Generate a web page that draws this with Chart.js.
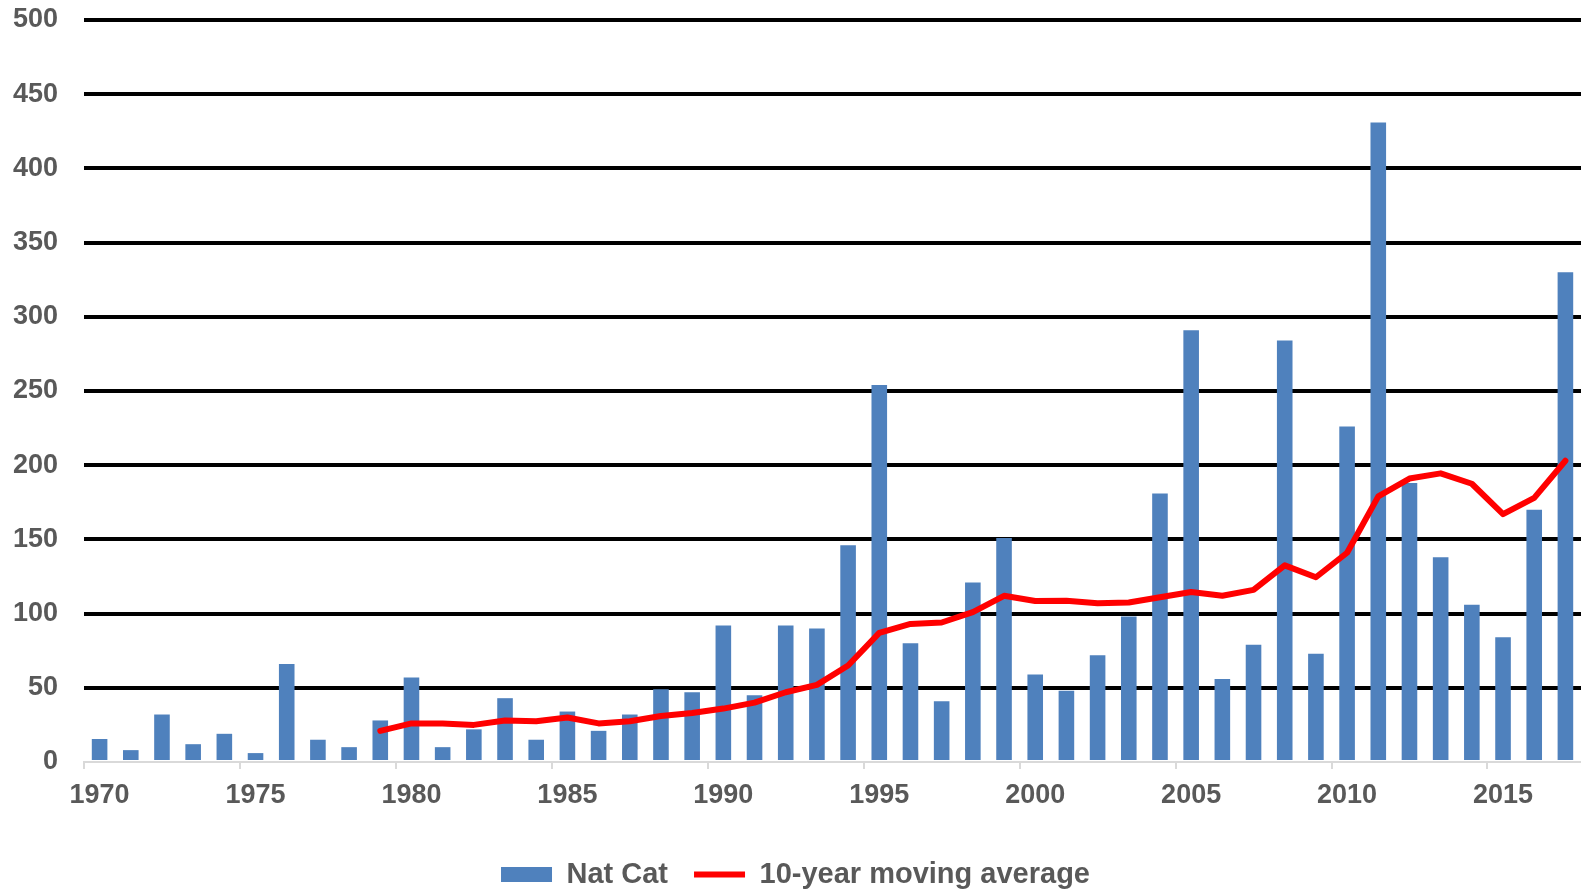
<!DOCTYPE html>
<html>
<head>
<meta charset="utf-8">
<title>Nat Cat losses</title>
<script src="https://cdn.jsdelivr.net/npm/chart.js@4/dist/chart.umd.min.js"></script>
<style>
  html, body { margin: 0; padding: 0; background: #fff; }
  .container { width: 1581px; height: 890px; position: relative; }
</style>
</head>
<body>
<div class="container">
  <canvas id="natCatChart"></canvas>
</div>
<script>
// Years on the x axis
const years = [
  1970, 1971, 1972, 1973, 1974, 1975, 1976, 1977, 1978, 1979,
  1980, 1981, 1982, 1983, 1984, 1985, 1986, 1987, 1988, 1989,
  1990, 1991, 1992, 1993, 1994, 1995, 1996, 1997, 1998, 1999,
  2000, 2001, 2002, 2003, 2004, 2005, 2006, 2007, 2008, 2009,
  2010, 2011, 2012, 2013, 2014, 2015, 2016, 2017
];

// Nat Cat losses per year (bars)
const natCat = [
  15.5, 8, 32, 12, 19, 6, 66, 15, 10, 28,
  57, 10, 22, 43, 15, 34, 21, 32, 49, 47,
  92, 45, 92, 90, 146, 254, 80, 41, 121, 151,
  59, 48, 72, 98, 181, 291, 56, 79, 284, 73,
  226, 431, 188, 138, 106, 84, 170, 330
];

// 10-year moving average (line), starts in 1979
const movingAvg = [
  null, null, null, null, null, null, null, null, null, 21,
  26, 26, 25, 28, 27.5, 30, 26, 27.5, 31, 33,
  36, 40, 47, 52, 65, 87, 93, 94, 101, 112,
  108.5, 108.7, 107, 107.5, 111, 114.5, 112, 116, 132.5, 124.5,
  141, 179, 191, 194.5, 187.5, 167, 178, 203
];

// Y axis range
const yMin = 0;
const yMax = 500;
const yStep = 50;

const textColor = '#595959';
Chart.defaults.font.family = "'Liberation Sans', Arial, sans-serif";

const ctx = document.getElementById('natCatChart').getContext('2d');

const natCatChart = new Chart(ctx, {
  type: 'bar',
  data: {
    labels: years,
    datasets: [
      {
        label: 'Nat Cat',
        data: natCat,
        backgroundColor: '#4F81BD',
        borderWidth: 0,
        barPercentage: 0.5,
        categoryPercentage: 1,
        pointStyle: 'rect',
        order: 1,
      },
      {
        type: 'line',
        label: '10-year moving average',
        data: movingAvg,
        borderColor: '#FF0000',
        backgroundColor: '#FF0000',
        borderWidth: 6,
        borderCapStyle: 'round',
        borderJoinStyle: 'round',
        pointRadius: 0,
        tension: 0,
        pointStyle: 'line',
        order: 0,
      },
    ],
  },
  options: {
    responsive: true,
    maintainAspectRatio: false,
    animation: false,
    layout: { padding: { left: 10, right: 0, top: 20, bottom: -9 } },
    plugins: {
      tooltip: { enabled: false },
      legend: {
        position: 'bottom',
        labels: {
          usePointStyle: true,
          pointStyleWidth: 51,
          boxHeight: 15,
          padding: 26,
          color: textColor,
          font: { size: 29, weight: 'bold' },
          sort: (a, b) => a.datasetIndex - b.datasetIndex,
        },
      },
    },
    scales: {
      x: {
        offset: true,
        grid: {
          offset: true,
          drawOnChartArea: false,
          drawTicks: true,
          tickLength: 7,
          lineWidth: 2,
          color: (c) => (c.index % 5 === 0 ? '#D9D9D9' : 'rgba(0,0,0,0)'),
        },
        border: { display: true, color: '#D9D9D9', width: 2 },
        ticks: {
          autoSkip: false,
          maxRotation: 0,
          padding: 10,
          color: textColor,
          font: { size: 27, weight: 'bold' },
          callback: (val, i) => (years[i] % 5 === 0 ? String(years[i]) : ''),
        },
        afterFit: (scale) => { scale.height = 72; },
      },
      y: {
        min: yMin,
        max: yMax,
        border: { display: false },
        grid: {
          // invisible tick marks give the gap between labels and grid
          drawTicks: true,
          tickLength: 26,
          tickColor: 'rgba(0,0,0,0)',
          lineWidth: 4,
          color: (c) => (c.tick && c.tick.value === 0 ? 'rgba(0,0,0,0)' : '#000000'),
        },
        ticks: {
          stepSize: yStep,
          padding: 0,
          color: textColor,
          font: { size: 27, weight: 'bold' },
        },
        afterFit: (scale) => { scale.width = 74; },
      },
    },
  },
});
</script>
</body>
</html>
